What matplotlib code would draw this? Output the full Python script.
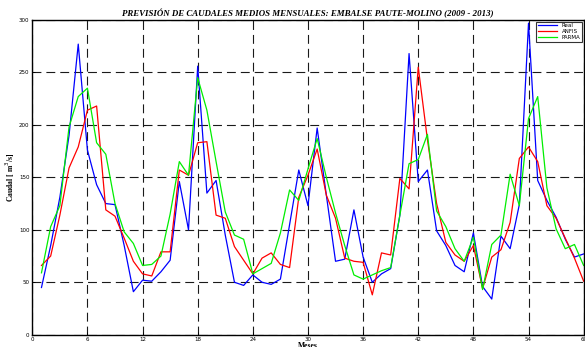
import numpy as np
import matplotlib
matplotlib.use("Agg")
import matplotlib.pyplot as plt

# caudales mensuales (m3/s), meses 1..60
meses = np.arange(1, 61)
real = [45, 85, 131, 190, 277, 176, 143, 125, 124, 85,
        41, 52, 51, 60, 71, 146, 100, 256, 135, 147,
        95, 50, 47, 57, 50, 48, 53, 105, 157, 123,
        197, 133, 70, 72, 119, 74, 50, 58, 63, 114,
        268, 146, 157, 99, 85, 66, 60, 97, 46, 34,
        94, 82, 124, 297, 147, 128, 112, 91, 74, 77]
anfis = [66, 75, 114, 159, 179, 214, 218, 119, 113, 92,
         70, 58, 56, 79, 79, 157, 152, 183, 184, 114,
         111, 84, 71, 58, 73, 78, 67, 64, 131, 152,
         177, 133, 111, 73, 70, 69, 38, 78, 76, 149,
         139, 255, 186, 125, 88, 76, 70, 85, 44, 74,
         81, 107, 168, 179, 165, 123, 111, 92, 73, 51]
parma = [59, 103, 123, 198, 227, 235, 183, 172, 125, 98,
         87, 66, 67, 75, 115, 165, 152, 245, 214, 165,
         117, 95, 91, 58, 63, 68, 97, 138, 128, 158,
         187, 150, 116, 85, 57, 53, 57, 61, 64, 114,
         163, 167, 191, 118, 103, 82, 70, 93, 43, 86,
         95, 153, 123, 206, 227, 140, 101, 82, 86, 66]

xticks = np.arange(0, 61, 6)
yticks = np.arange(0, 301, 50)

fig = plt.figure(figsize=(5.85, 3.47), dpi=100)
ax = fig.add_axes([0.0552, 0.0354, 0.9425, 0.907])

ax.plot(meses, real, color="#0000ff", lw=0.9, label="Real")
ax.plot(meses, anfis, color="#ff0000", lw=0.9, label="ANFIS")
ax.plot(meses, parma, color="#00ee00", lw=0.9, label="PARMA")

ax.set_xlim(0, 60)
ax.set_ylim(0, 300)
ax.set_xticks(xticks)
ax.set_yticks(yticks)
ax.tick_params(direction="in", length=2, width=0.6, labelsize=4, pad=2)
ax.grid(True, color="0.1", lw=0.8, linestyle=(0, (8, 4.5)))
for s in ax.spines.values():
    s.set_linewidth(1.0)

ax.set_title("PREVISIÓN DE CAUDALES MEDIOS MENSUALES: EMBALSE PAUTE-MOLINO (2009 - 2013)",
             fontsize=6.4, fontweight="bold", fontstyle="italic",
             family="Liberation Serif", pad=3)
ax.set_ylabel("Caudal [ m$^3$/s]", fontsize=5.5, fontweight="bold",
              family="Liberation Serif")
ax.yaxis.set_label_coords(-0.027, 0.5)
ax.set_xlabel("Meses", fontsize=5.5, fontweight="bold",
              family="Liberation Serif", labelpad=0)

leg = ax.legend(loc="upper right", fontsize=4, frameon=True, fancybox=False,
                edgecolor="k", handlelength=3.5, borderpad=0.3,
                labelspacing=0.15, borderaxespad=0.3)
leg.get_frame().set_linewidth(0.8)

fig.savefig("out.png", dpi=100)
